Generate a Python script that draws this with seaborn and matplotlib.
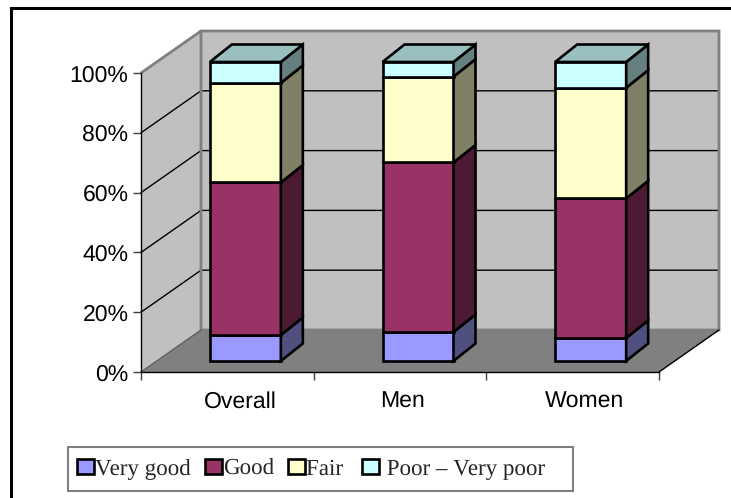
import numpy as np
import pandas as pd
import seaborn as sns
import matplotlib.pyplot as plt
from matplotlib.lines import Line2D
from matplotlib.patches import Patch, Polygon, Rectangle

groups = ['Overall', 'Men', 'Women']
levels = ['Very good', 'Good', 'Fair ', ' Poor \u2013 Very poor']
very_good = [8.7, 9.7, 7.7]
good = [51.0, 56.7, 46.7]
fair = [33.3, 28.7, 37.0]
poor = [7.0, 4.9, 8.6]
y_ticks = [0, 20, 40, 60, 80, 100]
y_labels = ['0%', '20%', '40%', '60%', '80%', '100%']

front = ['#9999FF', '#993366', '#FFFFCC', '#CCFFFF']
side = ['#505080', '#4D1A33', '#808066', '#668080']
top_col = '#99BFBF'

W, H = 731, 498
sns.set_style('white')
plt.rcParams['text.hinting'] = 'no_hinting'
plt.rcParams['text.hinting_factor'] = 1
fig = plt.figure(figsize=(W / 100, H / 100), dpi=100)
ax = fig.add_axes([141 / W, 1 - 372 / H, 518 / W, 299 / H])

# size of one data unit in pixels, used for the fake 3d offsets
ux, uy = 518 / 3, 299 / 100
wall_dx, wall_dy = 60 / ux, 42 / uy
bar_dx, bar_dy = 22 / ux, 17.5 / uy
base_x, base_y = 18 / ux, 11 / uy
bar_w = 71 / ux
bar_lw = 1.9


def poly(pts, color, ec='none', lw=0, z=1):
    ax.add_patch(Polygon(pts, closed=True, fc=color, ec=ec, lw=lw, zorder=z,
                         clip_on=False, joinstyle='miter'))


# walls and floor
poly([(0, 0), (wall_dx, wall_dy), (wall_dx, 100 + wall_dy), (0, 100)], '#C0C0C0')
poly([(wall_dx, wall_dy), (3 + wall_dx, wall_dy), (3 + wall_dx, 100 + wall_dy),
      (wall_dx, 100 + wall_dy)], '#C0C0C0')
poly([(0, 0), (3, 0), (3 + wall_dx, wall_dy), (wall_dx, wall_dy)], '#808080')

for t in y_ticks[1:-1]:
    ax.plot([0, wall_dx, 3 + wall_dx], [t, t + wall_dy, t + wall_dy], color='black',
            lw=1, zorder=1.5, clip_on=False)
ax.plot([0, wall_dx, 3 + wall_dx, 3 + wall_dx, wall_dx, wall_dx],
        [100, 100 + wall_dy, 100 + wall_dy, wall_dy, wall_dy, 100 + wall_dy],
        color='#808080', lw=2, zorder=1.6, clip_on=False, solid_joinstyle='miter')
ax.plot([3, 3 + wall_dx], [0, wall_dy], color='black', lw=1, zorder=1.6, clip_on=False)
ax.plot([0, wall_dx], [0, wall_dy], color='#606060', lw=1, zorder=1.6, clip_on=False)

# stacked bars
series = [very_good, good, fair, poor]
bar_x = np.arange(len(groups)) + 0.5 + base_x
bottom = np.full(len(groups), base_y)
for vals, fc, sc in zip(series, front, side):
    df = pd.DataFrame({'x': bar_x, 'y': vals})
    sns.barplot(data=df, x='x', y='y', color=fc, bottom=bottom, width=bar_w,
                native_scale=True, orient='x', saturation=1, errorbar=None,
                edgecolor='black', linewidth=bar_lw, zorder=3, clip_on=False, ax=ax)
    for x0, b, v in zip(bar_x, bottom, vals):
        xr = x0 + bar_w / 2
        poly([(xr, b), (xr + bar_dx, b + bar_dy), (xr + bar_dx, b + v + bar_dy), (xr, b + v)],
             sc, ec='black', lw=bar_lw, z=3)
    bottom = bottom + np.array(vals)

for x0, b in zip(bar_x, bottom):
    xl, xr = x0 - bar_w / 2, x0 + bar_w / 2
    poly([(xl, b), (xr, b), (xr + bar_dx, b + bar_dy), (xl + bar_dx, b + bar_dy)],
         top_col, ec='black', lw=bar_lw, z=3)

# axes
ax.set_xlim(0, 3)
ax.set_ylim(0, 100)
ax.set_xlabel('')
ax.set_ylabel('')
ax.set_facecolor('none')
ax.set_xticks([0, 1, 2, 3], labels=[])
# the labels do not sit centred between the ticks in the original
ax.set_xticks([0.573, 1.512, 2.571], labels=groups, minor=True)
ax.set_yticks(y_ticks, labels=y_labels)
ax.tick_params(axis='both', which='major', length=6, width=1, color='#404040', left=True, bottom=True)
ax.tick_params(axis='x', which='minor', length=0, pad=14)
ax.tick_params(axis='y', pad=3)
for lab in ax.get_xticklabels(minor=True) + ax.get_yticklabels():
    lab.set_fontfamily('Liberation Sans')
    lab.set_fontsize(16.4)
    lab.set_color('black')
sns.despine(ax=ax, top=True, right=True)
for s in ['left', 'bottom']:
    ax.spines[s].set_color('black')
    ax.spines[s].set_linewidth(1)
    ax.spines[s].set_zorder(2)

# legend, the box is wider than its entries so it is drawn on its own
fig.add_artist(Rectangle((68 / W, 1 - 491 / H), 505 / W, 44 / H, transform=fig.transFigure,
                         fc='white', ec='#808080', lw=1.5))
handles = [Patch(fc=c, ec='black', lw=bar_lw) for c in front]
leg = fig.legend(handles, levels, ncol=4, loc='upper left',
                 bbox_to_anchor=(69 / W, 1 - 450.5 / H), frameon=False,
                 prop={'family': 'Liberation Serif', 'size': 16.4}, borderaxespad=0, borderpad=0.36,
                 handlelength=0.74, handleheight=0.65, handletextpad=0.06, columnspacing=0.6)
leg.set_zorder(5)

# outer frame, only top and left are visible
fig.add_artist(Line2D([11 / W, 11 / W, 1], [0, 1 - 8 / H, 1 - 8 / H], color='black', lw=2.2,
                      solid_joinstyle='miter'))

fig.savefig('out.png', dpi=100)
